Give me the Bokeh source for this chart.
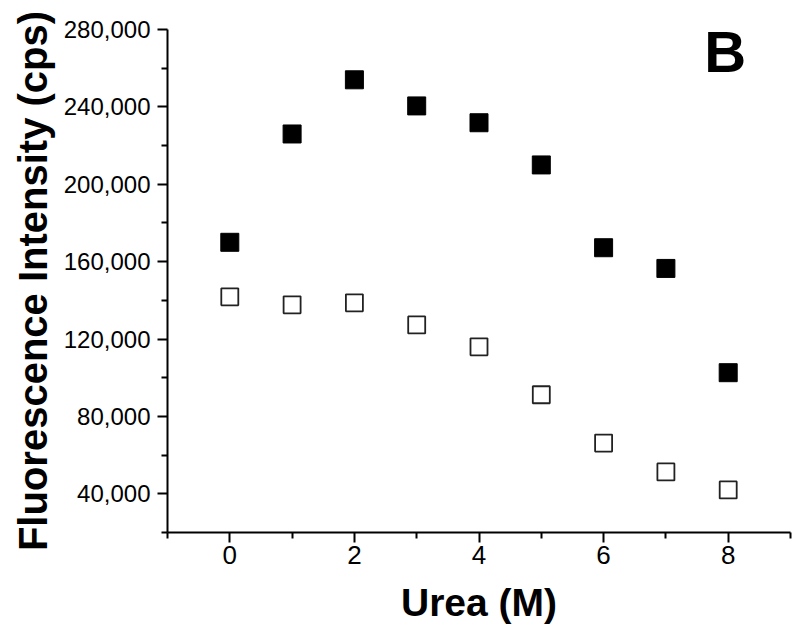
from bokeh.plotting import figure
from bokeh.models import Range1d, FixedTicker, NumeralTickFormatter, Label
from bokeh.embed import file_html
from bokeh.resources import INLINE

# Data
urea = [0, 1, 2, 3, 4, 5, 6, 7, 8]
filled_vals = [170000, 226000, 254000, 240500, 231800, 210000, 167200, 156500, 102600]
open_vals = [141800, 137700, 138700, 127300, 116000, 91200, 66200, 51300, 42000]

x_major = [0, 2, 4, 6, 8]
x_minor = [-1, 1, 3, 5, 7, 9]
y_major = [40000, 80000, 120000, 160000, 200000, 240000, 280000]
y_minor = [20000, 60000, 100000, 140000, 180000, 220000, 260000]

FONT = "Liberation Sans"

p = figure(width=798, height=632, output_backend="svg", toolbar_location=None,
           x_range=Range1d(-1, 9), y_range=Range1d(20000, 280000),
           min_border_left=167, min_border_right=8, min_border_top=29, min_border_bottom=100)
p.outline_line_color = None
p.xgrid.visible = False
p.ygrid.visible = False
p.background_fill_color = "white"

p.xaxis.ticker = FixedTicker(ticks=x_major, minor_ticks=x_minor)
p.yaxis.ticker = FixedTicker(ticks=y_major, minor_ticks=y_minor)
p.yaxis.formatter = NumeralTickFormatter(format="0,0")

for ax in (p.xaxis[0], p.yaxis[0]):
    ax.axis_line_width = 2
    ax.axis_line_color = "black"
    ax.major_tick_line_width = 2
    ax.minor_tick_line_width = 2
    ax.major_tick_line_color = "black"
    ax.minor_tick_line_color = "black"
    ax.major_tick_out = 10
    ax.major_tick_in = 0
    ax.minor_tick_out = 6
    ax.minor_tick_in = 0
    ax.major_label_text_font = FONT
    ax.major_label_text_color = "black"
    ax.axis_label_text_font = FONT
    ax.axis_label_text_font_style = "bold"
    ax.axis_label_text_color = "black"

p.xaxis.axis_label = "Urea (M)"
p.yaxis.axis_label = "Fluorescence Intensity (cps)"
p.xaxis.axis_label_text_font_size = "39px"
p.yaxis.axis_label_text_font_size = "40px"
p.xaxis.major_label_text_font_size = "26px"
p.yaxis.major_label_text_font_size = "24px"
p.xaxis.major_label_standoff = 3
p.yaxis.major_label_standoff = 7
p.xaxis.axis_label_standoff = 14
p.yaxis.axis_label_standoff = 6

p.scatter(urea, filled_vals, marker="square", size=18, fill_color="black", line_color="black", line_width=1)
p.scatter(urea, open_vals, marker="square", size=17, fill_color="white", line_color="#222222", line_width=1.8)

p.add_layout(Label(x=7.95, y=268600, text="B", text_font=FONT, text_font_style="bold",
                   text_font_size="58px", text_align="center", text_baseline="middle",
                   text_color="black"))

open("out.html", "w").write(file_html(p, INLINE))
